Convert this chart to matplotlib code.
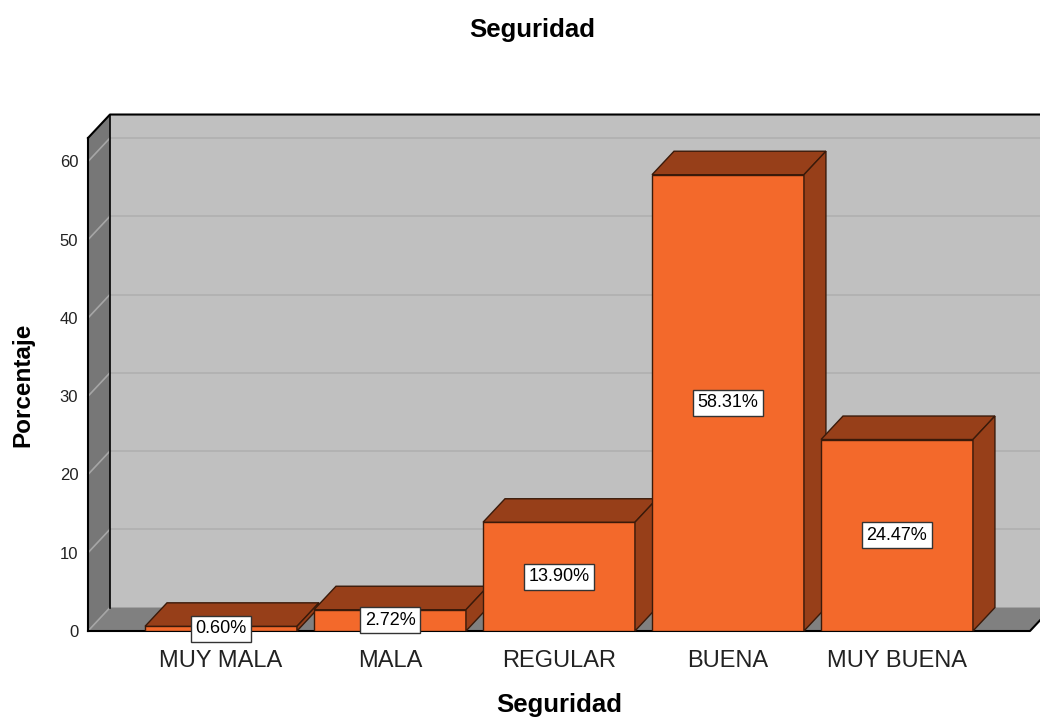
import matplotlib
matplotlib.use("Agg")
import matplotlib.pyplot as plt
from matplotlib.patches import Polygon

# datos
categorias = ["MUY MALA", "MALA", "REGULAR", "BUENA", "MUY BUENA"]
porcentajes = [0.60, 2.72, 13.90, 58.31, 24.47]
etiquetas = ["0.60%", "2.72%", "13.90%", "58.31%", "24.47%"]
yticks = [0, 10, 20, 30, 40, 50, 60]

plt.rcParams["font.family"] = ["Liberation Sans", "DejaVu Sans"]

# colores
c_frente = "#f3692b"
c_oscuro = "#973f19"
c_borde = "#3a1a0a"
c_pared = "#c0c0c0"
c_lateral = "#777777"
c_piso = "#808080"

fig = plt.figure(figsize=(10.4, 7.17), dpi=100)
ax = fig.add_axes([88 / 1040, 86 / 717, 942 / 1040, 493 / 717])

x0, x1 = -0.787, 4.787
ytop = 63
ax.set_xlim(x0, x1)
ax.set_ylim(0, ytop)

# profundidad 3D (en unidades de datos)
dx = 0.130
dy = 3.0
ancho = 0.899

# pared del fondo
ax.add_patch(Polygon([(x0 + dx, dy), (x1 + dx, dy), (x1 + dx, ytop + dy), (x0 + dx, ytop + dy)],
                     closed=True, facecolor=c_pared, edgecolor="none", clip_on=False, zorder=0))
# pared lateral
ax.add_patch(Polygon([(x0, 0), (x0 + dx, dy), (x0 + dx, ytop + dy), (x0, ytop)],
                     closed=True, facecolor=c_lateral, edgecolor="none", clip_on=False, zorder=0))
# piso
ax.add_patch(Polygon([(x0, 0), (x1, 0), (x1 + dx, dy), (x0 + dx, dy)],
                     closed=True, facecolor=c_piso, edgecolor="none", clip_on=False, zorder=0.5))

# lineas de cuadricula
for t in yticks:
    if t > 0:
        ax.plot([x0 + dx, x1 + dx], [t + dy, t + dy], color="#b0b0b0", lw=1.2,
                clip_on=False, zorder=0.2)
    ax.plot([x0, x0 + dx], [t, t + dy], color="#a6a6a6", lw=1.2, clip_on=False, zorder=0.6)

# bordes negros del marco
ax.plot([x0, x0], [0, ytop], color="black", lw=1.5, clip_on=False, zorder=1)
ax.plot([x0, x0 + dx, x1 + dx], [ytop, ytop + dy, ytop + dy], color="black", lw=1.5,
        clip_on=False, zorder=1)
ax.plot([x0 + dx, x0 + dx], [dy, ytop + dy], color="black", lw=1.2, clip_on=False, zorder=1)
ax.plot([x0, x1, x1 + dx], [0, 0, dy], color="black", lw=1.5, clip_on=False, zorder=1)

# barras 3D
for i, v in enumerate(porcentajes):
    izq = i - ancho / 2
    der = i + ancho / 2
    ax.bar(i, v, width=ancho, color=c_frente, edgecolor=c_borde, linewidth=1, zorder=3)
    ax.add_patch(Polygon([(izq, v), (der, v), (der + dx, v + dy), (izq + dx, v + dy)],
                         closed=True, facecolor=c_oscuro, edgecolor=c_borde, lw=1,
                         clip_on=False, zorder=3))
    ax.add_patch(Polygon([(der, 0), (der + dx, dy), (der + dx, v + dy), (der, v)],
                         closed=True, facecolor=c_oscuro, edgecolor=c_borde, lw=1,
                         clip_on=False, zorder=3))

for i, v in enumerate(porcentajes):
    ax.text(i, v / 2, etiquetas[i], ha="center", va="center", fontsize=13, zorder=10,
            bbox=dict(boxstyle="square,pad=0.25", facecolor="white", edgecolor="#333333", lw=1))

for s in ax.spines.values():
    s.set_visible(False)
ax.set_yticks(yticks)
ax.set_yticklabels([str(t) for t in yticks], fontsize=12, color="#222222")
ax.set_xticks(range(len(categorias)))
ax.set_xticklabels(categorias, fontsize=17, color="#222222")
ax.tick_params(axis="y", length=0, pad=7)
ax.tick_params(axis="x", length=0, pad=14)
ax.set_facecolor("none")

fig.text(0.512, 0.958, "Seguridad", ha="center", va="center", fontsize=18.5, fontweight="bold")
fig.text(0.538, 0.017, "Seguridad", ha="center", va="center", fontsize=18.5, fontweight="bold")
fig.text(0.022, 0.463, "Porcentaje", ha="center", va="center", rotation=90,
         fontsize=17.5, fontweight="bold")

fig.savefig("out.png", dpi=100)
